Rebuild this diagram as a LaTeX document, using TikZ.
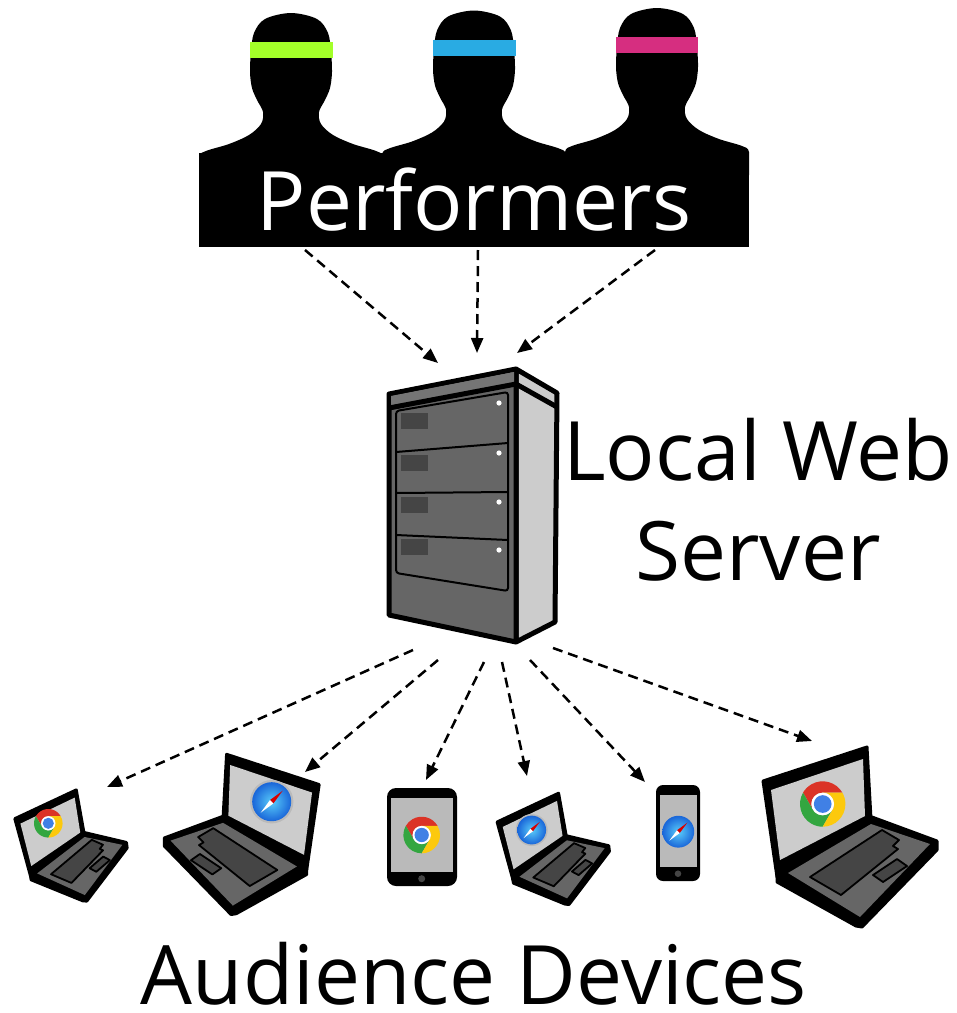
\documentclass[tikz,border=0pt]{standalone}
\usepackage{fontspec}
\setmainfont{Open Sans}
\usetikzlibrary{arrows.meta}

\definecolor{bandgreen}{rgb}{0.64, 1.00, 0.16}
\definecolor{bandblue}{rgb}{0.16, 0.67, 0.89}
\definecolor{bandpink}{rgb}{0.84, 0.18, 0.50}
\definecolor{casegray}{rgb}{0.40, 0.40, 0.40}
\definecolor{capgray}{rgb}{0.46, 0.46, 0.46}
\definecolor{sidegray}{rgb}{0.80, 0.80, 0.80}
\definecolor{keygray}{rgb}{0.27, 0.27, 0.27}
\definecolor{screengray}{rgb}{0.80, 0.80, 0.80}
\definecolor{padgray}{rgb}{0.73, 0.73, 0.73}
\definecolor{chromered}{rgb}{0.86, 0.20, 0.15}
\definecolor{chromeyellow}{rgb}{0.99, 0.79, 0.05}
\definecolor{chromegreen}{rgb}{0.20, 0.65, 0.25}
\definecolor{chromeblue}{rgb}{0.25, 0.50, 0.90}
\definecolor{safarilight}{rgb}{0.35, 0.80, 0.98}
\definecolor{safaridark}{rgb}{0.10, 0.40, 0.85}

\tikzset{
	bigtext/.style={font=\fontsize{82}{100}\selectfont, inner sep=0pt},
	flow/.style={line width=2.5pt, dash pattern=on 10pt off 6pt, -{Triangle[length=15pt,width=12pt]}},
	thickline/.style={line width=5pt, line join=round},
	% head and shoulders of one performer (y grows downwards)
	performer/.pic={
		\begin{scope}[yscale=-1]
			\fill[black] plot[smooth cycle, tension=0.55] coordinates {
				(-30,124) (-42,135) (-62,144) (-85,151) (-92,157) (-92,180) (92,180) (92,157) (85,151) (62,144) (42,135)
				(30,124) (28,112) (34,100) (39,88) (41,72) (40,52) (37,33) (26,19) (0,13)
				(-26,19) (-37,33) (-40,52) (-41,72) (-39,88) (-34,100) (-28,112)};
		\end{scope}
	},
	% laptop, origin at the left end of the hinge (y grows downwards)
	laptop/.pic={
		\begin{scope}[yscale=-1]
			\filldraw[black, line width=3pt, line join=round] (-14,-96) -- (90,-130) -- (94,-58) -- (0,0) -- cycle;
			\fill[screengray] (-6,-87) -- (86,-118) -- (88,-61) -- (3,-17) -- cycle;
			\filldraw[black, line width=3pt, line join=round] (0,-2) -- (95,-60) -- (160,-36) -- (160,-27) -- (85,50) -- (79,49) -- (0,5) -- cycle;
			\fill[casegray] (11,-4) -- (94,-53) -- (153,-33) -- (83,40) -- cycle;
			\filldraw[fill=keygray, line width=1.8pt, line join=round] (33,0) -- (105,-47) -- (122,-37) -- (116,-31) -- (121,-28) -- (64,18) -- cycle;
			\filldraw[fill=keygray, line width=1.8pt, line join=round] (96,-2) -- (120,-18) -- (130,-11) -- (106,5) -- cycle;
		\end{scope}
	},
	chrome/.pic={
		\foreach \ang/\col in {0/chromered, 120/chromegreen, 240/chromeyellow}{
			\fill[\col] (30+\ang:1) arc[start angle=30+\ang, end angle=150+\ang, radius=1]
				-- (210+\ang:0.5) arc[start angle=210+\ang, end angle=90+\ang, radius=0.5] -- cycle;
		}
		\fill[white] (0,0) circle (0.5);
		\fill[chromeblue] (0,0) circle (0.39);
	},
	safari/.pic={
		\fill[padgray] (0,0) circle (1);
		\shade[inner color=safarilight, outer color=safaridark] (0,0) circle (0.9);
		\fill[red!85!black] (45:0.72) -- (135:0.11) -- (315:0.11) -- cycle;
		\fill[white] (225:0.72) -- (135:0.11) -- (315:0.11) -- cycle;
	}
}

\begin{document}
\begin{tikzpicture}[x=1pt,y=1pt,yscale=-1,xscale=1]
		\useasboundingbox (0,0) rectangle (957,1013);

		% Three performers with coloured headbands
		\begin{scope}
			\clip (199,0) rectangle (749,250);
			\pic at (291,0) {performer};
			\pic at (474,-2.5) {performer};
			\pic at (657,-5) {performer};
		\end{scope}
		\fill[bandgreen] (250,42) rectangle (333,58);
		\fill[bandblue] (433,39.5) rectangle (516,55.5);
		\fill[bandpink] (616,37) rectangle (698,53);

		% Black banner with the title
		\node[fill=black, minimum width=550pt, minimum height=94pt, inner sep=0pt] (performers) at (474,200) {};
		\node[bigtext, text=white, anchor=base] (performerstext) at (474,230) {Performers};

		% Server side panel and front
		\filldraw[fill=sidegray, thickline] (516,369) -- (557,393) -- (555,622) -- (516,642) -- cycle;
		\filldraw[fill=casegray, thickline] (389,394) -- (516,369) -- (516,642) -- (389,615) -- cycle;
		\fill[capgray] (391,396) -- (514,372) -- (514,383) -- (391,406) -- cycle;
		\draw[thickline] (389,408) -- (516,384) -- (557,407);

		% Drawers
		\filldraw[fill=casegray, line width=2pt, rounded corners=3pt] (396,411) -- (508,392) -- (508,591) -- (396,573) -- cycle;
		\draw[line width=2pt] (396,452) -- (508,443);
		\draw[line width=2pt] (396,493) -- (508,492);
		\draw[line width=2pt] (396,535) -- (508,540);
		\foreach \y/\d in {413/403, 455/453, 497/502, 539/550}{
			\fill[keygray] (401,\y) rectangle (428,\y+16);
			\fill[white] (499,\d) circle (2.6);
		}

		% Server caption
		\node[bigtext, anchor=base] (local) at (758,480) {Local Web};
		\node[bigtext, anchor=base] (server) at (758,580) {Server};

		% Devices
		\pic[rotate=7, scale=0.62] at (30.7,876.7) {laptop};
		\pic at (48.3,823.3) [scale=14.3] {chrome};

		\pic[xscale=-0.89, yscale=0.89] at (306.7,870) {laptop};
		\pic at (271.7,801.7) [scale=21.7] {safari};

		\fill[black, rounded corners=9pt] (387,788) rectangle (457,886);
		\fill[padgray] (391,798) rectangle (453,872);
		\fill[keygray] (421.7,878.7) circle (3.5);
		\pic at (421.7,835) [scale=18.3] {chrome};

		\pic[rotate=7, scale=0.62] at (513,880) {laptop};
		\pic at (531.7,830) [scale=16] {safari};

		\fill[black, rounded corners=7pt] (656,785) rectangle (700,881);
		\fill[padgray] (659.5,795) rectangle (696.5,867);
		\fill[keygray] (678,873.7) circle (3.3);
		\pic at (678.3,831.7) [scale=17.7] {safari};

		\pic at (777,877) {laptop};
		\pic at (822.7,804) [scale=22.7] {chrome};

		\node[bigtext, anchor=base] (audience) at (474,1004) {Audience Devices};

		% Arrow end points
		\coordinate (p1) at (305,250);
		\coordinate (p2) at (478,250);
		\coordinate (p3) at (655,250);
		\coordinate (s1) at (438,363);
		\coordinate (s2) at (477,353);
		\coordinate (s3) at (517,353);
		\coordinate (o1) at (413,650);
		\coordinate (o2) at (438,660);
		\coordinate (o3) at (484,662);
		\coordinate (o4) at (502,662);
		\coordinate (o5) at (530,660);
		\coordinate (o6) at (553,648);
		\coordinate (d1) at (107,787);
		\coordinate (d2) at (305,772);
		\coordinate (d3) at (426,780);
		\coordinate (d4) at (527,776);
		\coordinate (d5) at (645,782);
		\coordinate (d6) at (812,741);

		% Performers to server
		\foreach \i in {1,2,3} \draw[flow] (p\i) -- (s\i);

		% Server to devices
		\foreach \i in {1,...,6} \draw[flow] (o\i) -- (d\i);
	\end{tikzpicture}
\end{document}
